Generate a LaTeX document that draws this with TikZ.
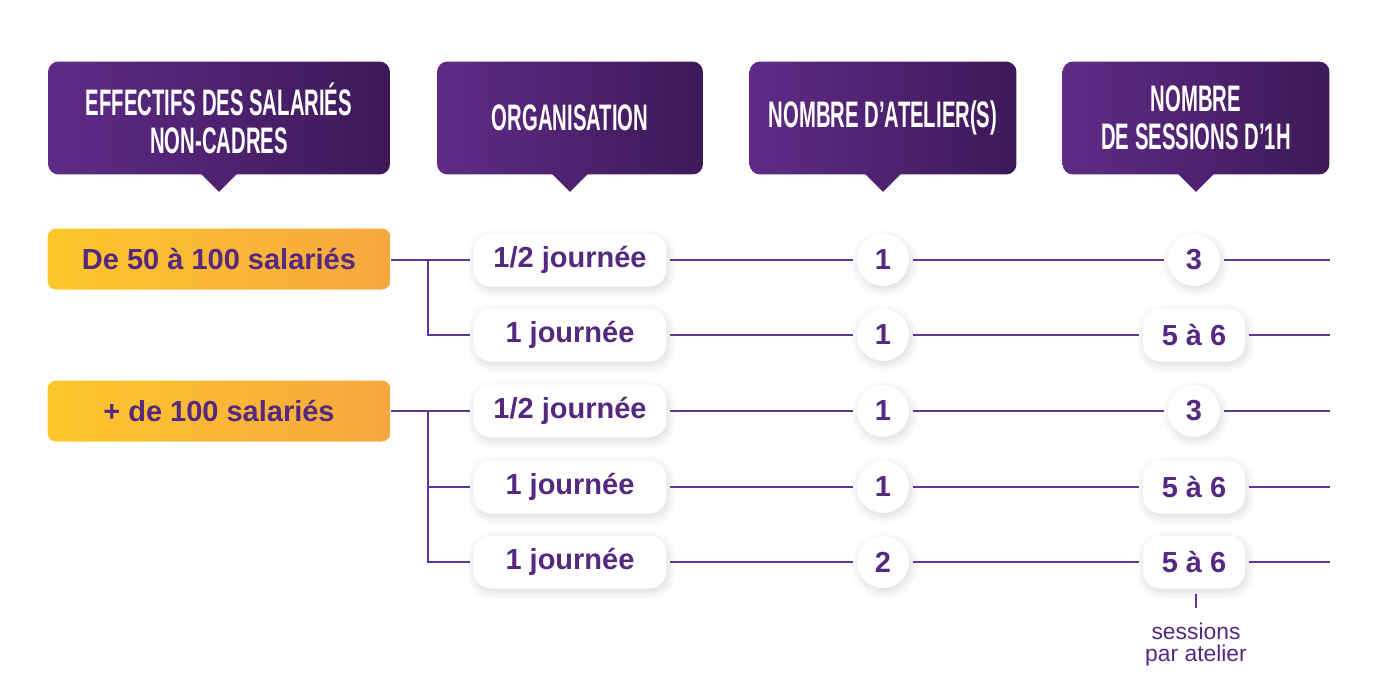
\documentclass[tikz,border=0pt]{standalone}
\usepackage{fontspec}
\setmainfont{Liberation Sans}
\newfontfamily\headfont{Liberation Sans}[UprightFont=* Bold,FakeStretch=0.55]
\usetikzlibrary{shadows.blur}
\definecolor{ink}{HTML}{55297F}
\definecolor{headl}{HTML}{5F2B87}
\definecolor{headr}{HTML}{3D1958}
\definecolor{headmid}{HTML}{4E2270}
\definecolor{orl}{HTML}{FDC72B}
\definecolor{orr}{HTML}{F6A73F}
\definecolor{wire}{HTML}{5E3890}
\tikzset{
  headbox/.style={rounded corners=6pt, left color=headl, right color=headr,
    minimum height=2.26cm, align=center, text=white,
    font=\headfont\fontsize{21}{21.8}\selectfont},
  staffbox/.style={rounded corners=5pt, left color=orl, right color=orr,
    minimum width=6.86cm, minimum height=1.22cm, text=ink,
    font=\bfseries\fontsize{16.5}{19}\selectfont},
  pillbox/.style={rounded corners=10pt, fill=white, minimum height=1.06cm,
    text=ink, font=\bfseries\fontsize{16.5}{19}\selectfont,
    blur shadow={shadow xshift=1pt, shadow yshift=-2pt, shadow blur steps=12, shadow blur radius=5pt, shadow opacity=15}},
  dotbox/.style={pillbox, circle, rounded corners=0pt, minimum size=1.04cm, inner sep=0pt},
  linkline/.style={wire, line width=1.6pt, shorten <=2pt, shorten >=2pt},
}
\begin{document}
\begin{tikzpicture}[x=0.02cm, y=-0.02cm]
  \useasboundingbox (0,0) rectangle (1400,694);
  % headers
  \node[headbox, minimum width=6.84cm] (h1) at (219,118) {EFFECTIFS DES SALARIÉS\\NON-CADRES};
  \node[headbox, minimum width=5.32cm] (h2) at (570,118) {ORGANISATION};
  \node[headbox, minimum width=5.34cm] (h3) at (883,118) {NOMBRE D’ATELIER(S)};
  \node[headbox, minimum width=5.34cm] (h4) at (1196,118) {NOMBRE\\DE SESSIONS D’1H};
  \fill[headmid] (h1.south) ++(-18,-1) -- ++(18,18) -- ++(18,-18) -- cycle;
  \fill[headmid] (h2.south) ++(-18,-1) -- ++(18,18) -- ++(18,-18) -- cycle;
  \fill[headmid] (h3.south) ++(-18,-1) -- ++(18,18) -- ++(18,-18) -- cycle;
  \fill[headmid] (h4.south) ++(-18,-1) -- ++(18,18) -- ++(18,-18) -- cycle;
  % staff ranges
  \node[staffbox] (r1) at (219,259) {De 50 à 100 salariés};
  \node[staffbox] (r2) at (219,411) {+ de 100 salariés};
  % organisation
  \node[pillbox, minimum width=3.86cm] (o1) at (570,260) {1/2 journée};
  \node[pillbox, minimum width=3.86cm] (o2) at (570,335) {1 journée};
  \node[pillbox, minimum width=3.86cm] (o3) at (570,411) {1/2 journée};
  \node[pillbox, minimum width=3.86cm] (o4) at (570,487) {1 journée};
  \node[pillbox, minimum width=3.86cm] (o5) at (570,562) {1 journée};
  % workshops
  \node[dotbox] (a1) at (883,260) {1};
  \node[dotbox] (a2) at (883,335) {1};
  \node[dotbox] (a3) at (883,411) {1};
  \node[dotbox] (a4) at (883,487) {1};
  \node[dotbox] (a5) at (883,562) {2};
  % sessions
  \node[dotbox] (s1) at (1194,260) {3};
  \node[pillbox, minimum width=2.04cm] (s2) at (1194,335) {5 à 6};
  \node[dotbox] (s3) at (1194,411) {3};
  \node[pillbox, minimum width=2.04cm] (s4) at (1194,487) {5 à 6};
  \node[pillbox, minimum width=2.04cm] (s5) at (1194,562) {5 à 6};
  % junctions and line ends
  \coordinate (j1) at (428,260);
  \coordinate (j2) at (428,411);
  \coordinate (e1) at (1330,260);
  \coordinate (e2) at (1330,335);
  \coordinate (e3) at (1330,411);
  \coordinate (e4) at (1330,487);
  \coordinate (e5) at (1330,562);
  \coordinate (t) at (1196,608);
  \begin{scope}[linkline]
    \draw[shorten <=0pt] (r1.east |- j1) -- (o1.west);
    \draw[shorten <=0pt] (j1) |- (o2.west);
    \draw[shorten <=0pt] (r2.east |- j2) -- (o3.west);
    \draw[shorten <=0pt] (j2) |- (o4.west);
    \draw[shorten <=0pt] (j2) |- (o5.west);
    \draw (o1) -- (a1);
    \draw (o2) -- (a2);
    \draw (o3) -- (a3);
    \draw (o4) -- (a4);
    \draw (o5) -- (a5);
    \draw (a1) -- (s1);
    \draw (a2) -- (s2);
    \draw (a3) -- (s3);
    \draw (a4) -- (s4);
    \draw (a5) -- (s5);
    \draw[shorten >=0pt] (s1) -- (e1);
    \draw[shorten >=0pt] (s2) -- (e2);
    \draw[shorten >=0pt] (s3) -- (e3);
    \draw[shorten >=0pt] (s4) -- (e4);
    \draw[shorten >=0pt] (s5) -- (e5);
    \draw[shorten <=3pt, shorten >=0pt] (s5.south -| t) -- (t);
  \end{scope}
  \node[below=5pt, align=center, text=ink, font=\fontsize{13}{12.5}\selectfont] (note) at (t) {sessions\\par atelier};
\end{tikzpicture}
\end{document}
